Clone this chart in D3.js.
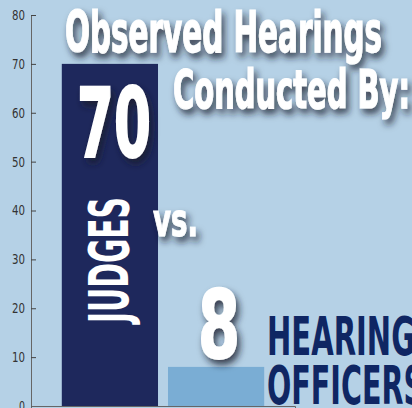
<!DOCTYPE html>
<meta charset="utf-8">
<style>
body { margin: 0; background: #b5d1e6; }
svg { display: block; }
</style>
<svg id="mysvg" width="412" height="408"></svg>
<script src="https://cdn.jsdelivr.net/npm/d3@7/dist/d3.min.js"></script>
<script>

var categories = ["Judges", "Hearing Officers"];
var values = [70, 8];
var yTicks = [0, 10, 20, 30, 40, 50, 60, 70, 80];
var titleLines = ["Observed Hearings", "Conducted By:"];
var barLabels = ["JUDGES", "HEARING OFFICERS"];

var svg = d3.select("#mysvg");
var font = "'Liberation Sans Narrow', 'DejaVu Sans Condensed', 'Roboto', sans-serif";

var defs = svg.append("defs");
var f = defs.append("filter").attr("id", "shadow")
	.attr("x", "-20%").attr("y", "-30%").attr("width", "140%").attr("height", "170%");
f.append("feGaussianBlur").attr("in", "SourceAlpha").attr("stdDeviation", 3.5).attr("result", "b");
f.append("feOffset").attr("in", "b").attr("dx", 3).attr("dy", 5).attr("result", "o");
f.append("feFlood").attr("flood-color", "#1a1d2c").attr("flood-opacity", 0.8);
f.append("feComposite").attr("in2", "o").attr("operator", "in").attr("result", "s");
var m = f.append("feMerge");
m.append("feMergeNode").attr("in", "s");
m.append("feMergeNode").attr("in", "SourceGraphic");

svg.append("rect").attr("width", 412).attr("height", 408).attr("fill", "#b5d1e6");

var y = d3.scaleLinear()
	.domain([0, 80])
	.range([406, 15]);

var x = d3.scaleBand()
	.domain(categories)
	.range([31, 295])
	.paddingInner(0.094)
	.paddingOuter(0.29);

// bars
svg.selectAll("rect.bar")
	.data(values)
	.enter().append("rect")
	.attr("class", "bar")
	.attr("x", function(d, i){ return x(categories[i]); })
	.attr("width", x.bandwidth())
	.attr("y", function(d){ return y(d); })
	.attr("height", function(d){ return y(0) - y(d); })
	.attr("fill", function(d, i){ return i == 0 ? "#1e285c" : "#7aadd4"; });

// y axis
var yAxis = svg.append("g")
	.attr("transform", "translate(31,0)")
	.call(d3.axisLeft(y).tickValues(yTicks).tickSizeInner(-5).tickSizeOuter(0).tickPadding(6));
yAxis.select(".domain").attr("stroke", "#666");
yAxis.selectAll(".tick line").attr("stroke", "#444");
yAxis.selectAll("text")
	.attr("font-family", font)
	.attr("font-size", 14)
	.attr("fill", "#333")
	.attr("textLength", function(d){ return d == 0 ? 6 : 13; })
	.attr("lengthAdjust", "spacingAndGlyphs");

// x axis
var xAxis = svg.append("g")
	.attr("transform", "translate(0," + y(0) + ")")
	.call(d3.axisBottom(x).tickValues([]).tickSizeOuter(4));
xAxis.select(".domain").attr("stroke", "#666");

// title
var title = svg.append("g").attr("filter", "url(#shadow)")
	.attr("font-family", font).attr("font-weight", "bold").attr("fill", "#fff")
	.attr("stroke", "#fff").attr("stroke-width", 1.2);
title.append("text").attr("x", 65).attr("y", 52)
	.attr("font-size", 57).attr("textLength", 317).attr("lengthAdjust", "spacingAndGlyphs")
	.text(titleLines[0]);
title.append("text").attr("x", 173).attr("y", 108)
	.attr("font-size", 53).attr("textLength", 237).attr("lengthAdjust", "spacingAndGlyphs")
	.text(titleLines[1]);

// value labels
var cx0 = x(categories[0]) + x.bandwidth() / 2;
var cx1 = x(categories[1]) + x.bandwidth() / 2;

svg.append("text")
	.attr("filter", "url(#shadow)")
	.attr("x", cx0 - 33).attr("y", y(values[0]) + 93)
	.attr("font-family", font).attr("font-weight", "bold").attr("font-size", 96)
	.attr("fill", "#fff").attr("stroke", "#fff").attr("stroke-width", 2)
	.attr("textLength", 74).attr("lengthAdjust", "spacingAndGlyphs")
	.text(values[0]);

svg.append("text")
	.attr("filter", "url(#shadow)")
	.attr("x", cx1 - 18).attr("y", y(values[1]) - 9)
	.attr("font-family", font).attr("font-weight", "bold").attr("font-size", 95)
	.attr("fill", "#fff").attr("stroke", "#fff").attr("stroke-width", 2)
	.attr("textLength", 42).attr("lengthAdjust", "spacingAndGlyphs")
	.text(values[1]);

// JUDGES rotated
svg.append("text")
	.attr("transform", "translate(" + (cx0 + 18) + ",323) rotate(-90)")
	.attr("font-family", font).attr("font-weight", "bold").attr("font-size", 55)
	.attr("fill", "#fff").attr("textLength", 126).attr("lengthAdjust", "spacingAndGlyphs")
	.text(barLabels[0]);

// vs.
svg.append("text")
	.attr("filter", "url(#shadow)")
	.attr("x", 153).attr("y", 236)
	.attr("font-family", font).attr("font-weight", "bold").attr("font-size", 46)
	.attr("fill", "#fff").attr("stroke", "#fff").attr("stroke-width", 1)
	.attr("textLength", 45).attr("lengthAdjust", "spacingAndGlyphs")
	.text("vs.");

// HEARING OFFICERS
var words = barLabels[1].split(" ");
svg.append("text")
	.attr("x", 267).attr("y", 355)
	.attr("font-family", font).attr("font-weight", "bold").attr("font-size", 54)
	.attr("fill", "#0f2663").attr("textLength", 148).attr("lengthAdjust", "spacingAndGlyphs")
	.text(words[0]);
svg.append("text")
	.attr("x", 267).attr("y", 404)
	.attr("font-family", font).attr("font-weight", "bold").attr("font-size", 54)
	.attr("fill", "#0f2663").attr("textLength", 157).attr("lengthAdjust", "spacingAndGlyphs")
	.text(words[1]);

</script>
